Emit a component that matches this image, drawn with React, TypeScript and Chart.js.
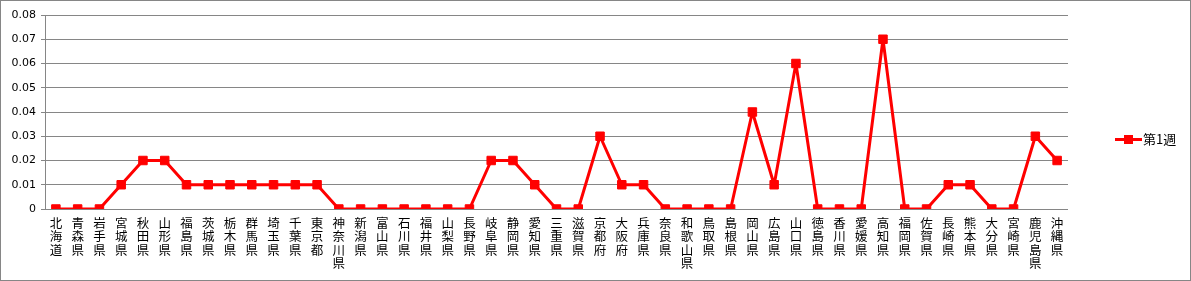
import React, { useEffect, useRef } from "react";
import { Chart, registerables } from "chart.js";

Chart.register(...registerables);

const prefectures: string[] = [
  "北海道", "青森県", "岩手県", "宮城県", "秋田県", "山形県", "福島県", "茨城県", "栃木県", "群馬県",
  "埼玉県", "千葉県", "東京都", "神奈川県", "新潟県", "富山県", "石川県", "福井県", "山梨県", "長野県",
  "岐阜県", "静岡県", "愛知県", "三重県", "滋賀県", "京都府", "大阪府", "兵庫県", "奈良県", "和歌山県",
  "鳥取県", "島根県", "岡山県", "広島県", "山口県", "徳島県", "香川県", "愛媛県", "高知県", "福岡県",
  "佐賀県", "長崎県", "熊本県", "大分県", "宮崎県", "鹿児島県", "沖縄県",
];

const week1: number[] = [
  0, 0, 0, 0.01, 0.02, 0.02, 0.01, 0.01, 0.01, 0.01,
  0.01, 0.01, 0.01, 0, 0, 0, 0, 0, 0, 0,
  0.02, 0.02, 0.01, 0, 0, 0.03, 0.01, 0.01, 0, 0,
  0, 0, 0.04, 0.01, 0.06, 0, 0, 0, 0.07, 0,
  0, 0.01, 0.01, 0, 0, 0.03, 0.02,
];

const seriesName = "第1週";
const yMax = 0.08;
const yStep = 0.01;

const RED = "#FF0000";
const GRID = "#868686";

export default function App() {
  const ref = useRef<HTMLCanvasElement | null>(null);

  useEffect(() => {
    document.body.style.margin = "0";
    const canvas = ref.current;
    if (!canvas) return;

    const frame = {
      id: "frame",
      afterDraw(chart: any) {
        const ctx = chart.ctx;
        ctx.save();
        ctx.strokeStyle = GRID;
        ctx.lineWidth = 1;
        ctx.strokeRect(0.5, 0.5, chart.width - 1, chart.height - 1);
        ctx.restore();
      },
    };

    const customLegend = {
      id: "customLegend",
      afterDraw(chart: any) {
        const ctx = chart.ctx;
        const y = chart.height / 2 - 1;
        const x0 = 1115;
        const x1 = 1142;
        ctx.save();
        ctx.strokeStyle = RED;
        ctx.lineWidth = 3;
        ctx.beginPath();
        ctx.moveTo(x0, y);
        ctx.lineTo(x1, y);
        ctx.stroke();
        ctx.fillStyle = RED;
        ctx.fillRect((x0 + x1) / 2 - 4.5, y - 4.5, 9, 9);
        ctx.fillStyle = "#000";
        ctx.font = "13px 'Noto Sans CJK JP'";
        ctx.textBaseline = "middle";
        ctx.textAlign = "left";
        ctx.fillText(seriesName, x1 + 1, y);
        ctx.restore();
      },
    };

    const chart = new Chart(canvas, {
      type: "line",
      data: {
        labels: prefectures.map((p) => p.split("")),
        datasets: [
          {
            label: seriesName,
            data: week1,
            borderColor: RED,
            backgroundColor: RED,
            borderWidth: 3,
            borderJoinStyle: "round",
            pointStyle: "rect",
            pointRadius: 6,
            pointBorderWidth: 1,
            pointBackgroundColor: RED,
            pointBorderColor: RED,
            tension: 0,
          },
        ],
      },
      options: {
        animation: false,
        responsive: false,
        maintainAspectRatio: false,
        layout: { padding: { left: 0, right: 123, top: 15, bottom: 0 } },
        plugins: {
          legend: { display: false },
          tooltip: { enabled: false },
        },
        scales: {
          x: {
            type: "category",
            offset: true,
            grid: { display: false, drawTicks: false },
            border: { display: false },
            ticks: {
              autoSkip: false,
              maxRotation: 0,
              minRotation: 0,
              padding: 7,
              color: "#000",
              font: { family: "'Noto Sans CJK JP'", size: 12.5, lineHeight: 1.08 },
            },
            afterFit(scale: any) {
              scale.height = 72;
            },
          },
          y: {
            min: 0,
            max: yMax,
            grid: { color: GRID, lineWidth: 1, tickLength: 4, drawTicks: true },
            border: { display: true, color: GRID, width: 1 },
            ticks: {
              stepSize: yStep,
              padding: 5,
              color: "#000",
              font: { family: "'DejaVu Sans'", size: 11 },
              callback: (v: any) => (Number(v) === 0 ? "0" : Number(v).toFixed(2)),
            },
            afterFit(scale: any) {
              scale.width = 45;
            },
          },
        },
      },
      plugins: [frame, customLegend],
    });

    return () => chart.destroy();
  }, []);

  return (
    <div style={{ width: 1191, height: 281 }}>
      <canvas ref={ref} width={1191} height={281} style={{ display: "block", width: 1191, height: 281 }} />
    </div>
  );
}
